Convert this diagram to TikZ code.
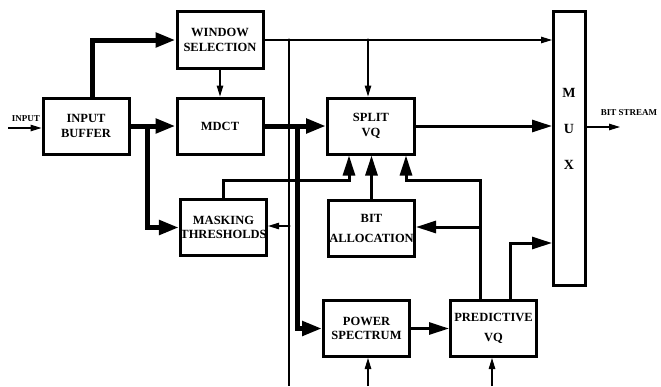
\documentclass[tikz,border=0pt]{standalone}
\usepackage{fontspec}
\setmainfont{Liberation Serif}
\usetikzlibrary{arrows.meta}
\begin{document}
\begin{tikzpicture}[x=1pt,y=-1pt,
    block/.style={draw,line width=3pt,minimum width=86pt,minimum height=56pt,
      inner sep=0pt,align=center,font=\fontsize{12.5}{14.5}\selectfont\bfseries},
    tag/.style={inner sep=0pt,font=\fontsize{9}{11}\selectfont\bfseries},
    fatline/.style={line width=5pt,-{Triangle[length=20pt,width=14pt]}},
    midline/.style={line width=3pt,-{Triangle[length=20pt,width=12pt]}},
    thinline/.style={line width=1.1pt,-{Triangle[length=11pt,width=6.5pt]}}]
      \useasboundingbox (0,0) rectangle (661,386);
      \draw
        (86,126) node[block] (buffer){INPUT\\BUFFER}
        (220,40) node[block,minimum height=57pt] (window){WINDOW\\SELECTION}
        (220,126) node[block] (mdct){MDCT}
        (371,126) node[block,minimum width=87pt] (split){SPLIT\\VQ}
        (223.5,227.5) node[block] (mask){MASKING\\THRESHOLDS}
        (371.5,228.5) node[block] (bitalloc){BIT\\[6pt]ALLOCATION}
        (366.5,328.5) node[block] (power){POWER\\SPECTRUM}
        (493.5,328.5) node[block] (pred){PREDICTIVE\\[5pt]VQ}
        (569.5,148.5) node[block,minimum width=32pt,minimum height=274pt] (mux){}
        (569,129) node[inner sep=0pt,align=center,font=\fontsize{14}{16}\selectfont\bfseries] (muxlbl){M\\[20pt]U\\[20pt]X}
        (26,119) node[tag] (inlbl){INPUT}
        (629,113) node[tag] (outlbl){BIT STREAM};
      \coordinate (in) at (8,128);
      \coordinate (out) at (620,127);
      \coordinate (j1) at (147,126);
      \coordinate (j2) at (297,126);
      \coordinate (k1) at (349,180);
      \coordinate (k2) at (406,180);
      \coordinate (k3) at (480,227);
      \coordinate (k4) at (510,243);
      \coordinate (d1) at (289,40);
      \coordinate (d2) at (368,40);
      \coordinate (d3) at (289,226);
      \coordinate (d1end) at (289,386);
      \coordinate (b1) at (368,386);
      \coordinate (b2) at (492,386);
      \begin{scope}[fatline]
        \draw ([xshift=6pt]buffer.north) |- (window.west);
        \draw (buffer.east) -- (mdct.west);
        \draw (j1) |- (mask.west);
        \draw (mdct.east) -- (split.west);
        \draw (j2) |- (power.west);
      \end{scope}
      \begin{scope}[midline]
        \draw (mask.north) |- (k1) -- (k1 |- split.south);
        \draw (bitalloc.north) -- (bitalloc.north |- split.south);
        \draw ([xshift=-13.5pt]pred.north) |- (k2) -- (k2 |- split.south);
        \draw (k3) -- (k3 -| bitalloc.east);
        \draw ([xshift=16.5pt]pred.north) -- (k4) -- (k4 -| mux.west);
        \draw (split.east) -- (split.east -| mux.west);
        \draw (power.east) -- (pred.west);
      \end{scope}
      \begin{scope}[thinline]
        \draw (in) -- (in -| buffer.west);
        \draw (window.south) -- (mdct.north);
        \draw (window.east) -- (window.east -| mux.west);
        \draw (d2) -- (d2 |- split.north);
        \draw[-] (d1) -- (d1end);
        \draw (d3) -- (d3 -| mask.east);
        \draw (out -| mux.east) -- (out);
        \draw (b1) -- (b1 |- power.south);
        \draw (b2) -- (b2 |- pred.south);
      \end{scope}
      \fill (d1) circle (1.6) (d2) circle (1.6) (d3) circle (1.6) (k3) circle (1.6);
    \end{tikzpicture}
\end{document}
